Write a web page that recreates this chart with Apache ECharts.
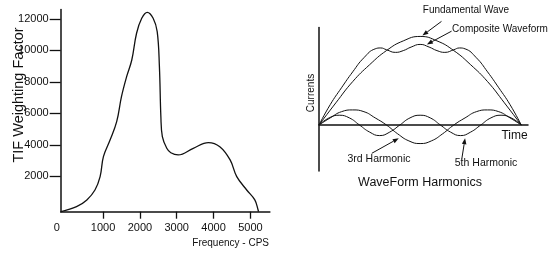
<!DOCTYPE html>
<html>
<head>
<meta charset="utf-8">
<script src="https://cdn.jsdelivr.net/npm/echarts@6/dist/echarts.min.js"></script>
<style>
html, body { margin: 0; padding: 0; background: #fff; }
#chart { width: 552px; height: 253px; }
</style>
</head>
<body>
<div id="chart"></div>
<script>
// TIF weighting curve (left)
var freq = [-140, 280, 560, 780, 920, 1010, 1190, 1370, 1500, 1640, 1780, 1910, 2050, 2200, 2360, 2470, 2530, 2570, 2610, 2730, 2840, 3040, 3450, 3860, 4170, 4450, 4630, 4900, 5120, 5210, 5220];
var tif = [-250, 70, 500, 1130, 1980, 3250, 4300, 5470, 7060, 8330, 9390, 11090, 12040, 12420, 12040, 11190, 8970, 5790, 4520, 3780, 3500, 3360, 3780, 4140, 3880, 3040, 1980, 1130, 500, -140, -250];
var freqTicks = [0, 1000, 2000, 3000, 4000, 5000];
var tifTicks = [2000, 4000, 6000, 8000, 10000, 12000];

// waveform harmonics (right), time in degrees of the half cycle
var fundT = [0, 15, 30, 45, 60, 75, 90, 105, 120, 135, 150, 165, 180];
var fundamental = [0, 25, 49, 68, 84, 95, 100, 95, 84, 68, 49, 25, 0];
var compT = [0, 10, 20, 30, 40, 50, 55, 60, 68, 75, 82, 90, 98, 105, 112, 120, 125, 130, 140, 150, 160, 170, 180];
var composite = [0, 23, 42, 60, 76, 86, 87, 85, 82, 84, 88, 91, 88, 84, 82, 85, 87, 86, 76, 60, 42, 23, 0];
var thirdT = [0, 10, 20, 30, 40, 50, 60, 70, 80, 90, 100, 110, 120, 130, 140, 150, 160, 170, 180];
var third = [0, 8, 15, 17, 15, 8, 0, -10, -18, -21, -18, -10, 0, 8, 15, 17, 15, 8, 0];
var fifthT = [0, 9, 18, 27, 36, 45, 54, 63, 72, 81, 90, 99, 108, 117, 126, 135, 144, 153, 162, 171, 180];
var fifth = [0, 8, 11, 8, 0, -8, -12, -8, 0, 8, 11, 8, 0, -8, -12, -8, 0, 8, 11, 8, 0];

function pairs(xs, ys) {
    var out = [];
    for (var i = 0; i < xs.length; i++) out.push([xs[i], ys[i]]);
    return out;
}

var ink = '#111';
var fontFam = '"Liberation Sans", Arial, sans-serif';

var chart = echarts.init(document.getElementById('chart'));
var option = {
    animation: false,
    backgroundColor: '#fff',
    grid: [
        { left: 60.7, top: 9.5, width: 209.2, height: 202.2 },
        { left: 319, top: 27.6, width: 209, height: 143.4 }
    ],
    xAxis: [{
        type: 'value',
        gridIndex: 0,
        min: -150,
        max: 5530,
        splitLine: { show: false },
        axisLine: { onZero: false, lineStyle: { color: ink, width: 1.5 } },
        axisTick: { show: true, length: 7, lineStyle: { color: ink, width: 1.3 }, customValues: freqTicks.slice(1) },
        axisLabel: {
            customValues: freqTicks,
            margin: 11,
            color: ink,
            fontSize: 11,
            fontFamily: fontFam,
            formatter: function (v) { return v === 0 ? '{z|0}' : String(v); },
            rich: { z: { padding: [0, 19, 0, 0], fontSize: 11, color: ink, fontFamily: fontFam } }
        }
    }, {
        type: 'value',
        gridIndex: 1,
        min: 0,
        max: 186,
        splitLine: { show: false },
        axisLine: { onZero: true, lineStyle: { color: ink, width: 1.5 } },
        axisTick: { show: false },
        axisLabel: { show: false }
    }],
    yAxis: [{
        type: 'value',
        gridIndex: 0,
        min: -250,
        max: 12600,
        splitLine: { show: false },
        axisLine: { show: true, onZero: false, lineStyle: { color: ink, width: 1.5 } },
        axisTick: { show: true, length: 11, lineStyle: { color: ink, width: 1.3 }, customValues: tifTicks },
        axisLabel: {
            customValues: tifTicks,
            margin: 12,
            color: ink,
            fontSize: 11,
            fontFamily: fontFam,
            formatter: function (v) { return String(v); }
        }
    }, {
        type: 'value',
        gridIndex: 1,
        min: -52,
        max: 110,
        splitLine: { show: false },
        axisLine: { show: true, onZero: false, lineStyle: { color: ink, width: 1.5 } },
        axisTick: { show: false },
        axisLabel: { show: false }
    }],
    series: [{
        type: 'line',
        xAxisIndex: 0,
        yAxisIndex: 0,
        data: pairs(freq, tif),
        smooth: 0.4,
        showSymbol: false,
        lineStyle: { color: ink, width: 1.3 }
    }, {
        type: 'line',
        xAxisIndex: 1,
        yAxisIndex: 1,
        data: pairs(fundT, fundamental),
        smooth: 0.5,
        showSymbol: false,
        lineStyle: { color: ink, width: 1 }
    }, {
        type: 'line',
        xAxisIndex: 1,
        yAxisIndex: 1,
        data: pairs(compT, composite),
        smooth: 0.5,
        showSymbol: false,
        lineStyle: { color: ink, width: 1 }
    }, {
        type: 'line',
        xAxisIndex: 1,
        yAxisIndex: 1,
        data: pairs(thirdT, third),
        smooth: 0.5,
        showSymbol: false,
        lineStyle: { color: ink, width: 1 }
    }, {
        type: 'line',
        xAxisIndex: 1,
        yAxisIndex: 1,
        data: pairs(fifthT, fifth),
        smooth: 0.5,
        showSymbol: false,
        lineStyle: { color: ink, width: 1 }
    }],
    graphic: [
        { type: 'text', x: 19, y: 95, rotation: Math.PI / 2, style: { text: 'TIF Weighting Factor', font: '14.5px ' + fontFam, fill: ink, align: 'center', verticalAlign: 'middle' } },
        { type: 'text', x: 269, y: 243, style: { text: 'Frequency - CPS', font: '10px ' + fontFam, fill: ink, align: 'right', verticalAlign: 'middle' } },
        { type: 'text', x: 466, y: 10, style: { text: 'Fundamental Wave', font: '10px ' + fontFam, fill: ink, align: 'center', verticalAlign: 'middle' } },
        { type: 'text', x: 500, y: 29.5, style: { text: 'Composite Waveform', font: '10px ' + fontFam, fill: ink, align: 'center', verticalAlign: 'middle' } },
        { type: 'text', x: 311.5, y: 93, rotation: Math.PI / 2, style: { text: 'Currents', font: '10px ' + fontFam, fill: ink, align: 'center', verticalAlign: 'middle' } },
        { type: 'text', x: 514.5, y: 136, style: { text: 'Time', font: '12px ' + fontFam, fill: ink, align: 'center', verticalAlign: 'middle' } },
        { type: 'text', x: 379, y: 159.5, style: { text: '3rd Harmonic', font: '10.5px ' + fontFam, fill: ink, align: 'center', verticalAlign: 'middle' } },
        { type: 'text', x: 486, y: 163, style: { text: '5th Harmonic', font: '10.5px ' + fontFam, fill: ink, align: 'center', verticalAlign: 'middle' } },
        { type: 'text', x: 420, y: 183, style: { text: 'WaveForm Harmonics', font: '12.5px ' + fontFam, fill: ink, align: 'center', verticalAlign: 'middle' } }
    ]
};
chart.setOption(option);

// annotation arrows, placed in the waveform grid's data space
var arrows = [
    [[109, 117], [92, 101]],   // Fundamental Wave
    [[118, 106], [96, 91]],    // Composite Waveform
    [[47, -32], [71, -15]],    // 3rd Harmonic
    [[127, -39], [130, -15]]   // 5th Harmonic
];
var arrowEls = [];
arrows.forEach(function (a) {
    var p1 = chart.convertToPixel({ gridIndex: 1 }, a[0]);
    var p2 = chart.convertToPixel({ gridIndex: 1 }, a[1]);
    var ang = Math.atan2(p2[1] - p1[1], p2[0] - p1[0]);
    var len = 6, half = 2.3;
    var bx = p2[0] - len * Math.cos(ang), by = p2[1] - len * Math.sin(ang);
    arrowEls.push({
        type: 'line', silent: true,
        shape: { x1: p1[0], y1: p1[1], x2: bx, y2: by },
        style: { stroke: ink, lineWidth: 1 }
    });
    arrowEls.push({
        type: 'polygon', silent: true,
        shape: { points: [
            [p2[0], p2[1]],
            [bx + half * Math.sin(ang), by - half * Math.cos(ang)],
            [bx - half * Math.sin(ang), by + half * Math.cos(ang)]
        ] },
        style: { fill: ink }
    });
});
chart.setOption({ graphic: option.graphic.concat(arrowEls) });

window.addEventListener('resize', function () {
    chart.resize();
});
</script>
</body>
</html>
